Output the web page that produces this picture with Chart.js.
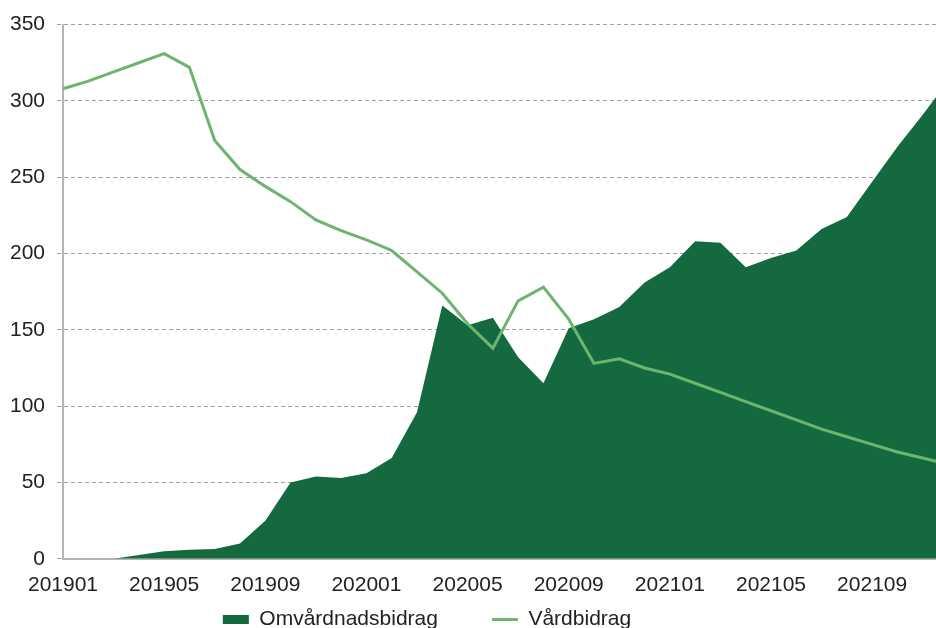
<!DOCTYPE html>
<html>
<head>
<meta charset="utf-8">
<script src="https://cdn.jsdelivr.net/npm/chart.js@4/dist/chart.umd.min.js"></script>
<style>
  html, body { margin: 0; padding: 0; background: #fff; overflow: hidden; width: 936px; height: 628px; }
  #chart { display: block; }
</style>
</head>
<body>
<canvas id="chart" width="948" height="653"></canvas>
<script>
// Months, one point per month (the right end is cropped in the picture)
const months = [
  '201901', '201902', '201903', '201904', '201905', '201906',
  '201907', '201908', '201909', '201910', '201911', '201912',
  '202001', '202002', '202003', '202004', '202005', '202006',
  '202007', '202008', '202009', '202010', '202011', '202012',
  '202101', '202102', '202103', '202104', '202105', '202106',
  '202107', '202108', '202109', '202110', '202111', '202112'
];

const omvardnadsbidrag = [
  0, 0, 0, 2.5, 5, 6, 6.5, 10, 25, 50, 54, 53,
  56, 66, 96, 166, 153, 158, 132, 115, 151, 157, 165, 181,
  191, 208, 207, 191, 197, 202, 216, 224, 247, 270, 291, 313
];

const vardbidrag = [
  308, 313, 319, 325, 331, 322, 274, 255, 244, 234, 222, 215,
  209, 202, 188, 174, 154, 138, 169, 178, 157, 128, 131, 125,
  121, 115, 109, 103, 97, 91, 85, 80, 75, 70, 66, 62
];

const yTicks = [0, 50, 100, 150, 200, 250, 300, 350];

const FONT = { family: '"Liberation Sans", Arial, sans-serif', size: 21 };
const TEXT = '#222222';
const DARK = '#146a3e';
const LIGHT = '#6db56f';
const ITEM_GAP = 54;

// the legend in the picture sits left of the canvas centre, tight under the axis.
// only the top moves up, so the legend's clip box still holds the items
const legendShift = {
  id: 'legendShift',
  afterLayout(chart) {
    const lg = chart.legend;
    if (!lg) return;
    lg.left -= 47;
    lg.right -= 47;
    lg.top -= ITEM_GAP + 3;
  }
};

new Chart(document.getElementById('chart'), {
  type: 'line',
  data: {
    labels: months,
    datasets: [
      {
        label: 'Vårdbidrag',
        data: vardbidrag,
        borderColor: LIGHT,
        backgroundColor: LIGHT,
        borderWidth: 3,
        pointRadius: 0,
        pointStyle: 'line',
        tension: 0,
        fill: false
      },
      {
        label: 'Omvårdnadsbidrag',
        data: omvardnadsbidrag,
        borderColor: DARK,
        backgroundColor: DARK,
        borderWidth: 0,
        pointRadius: 0,
        pointStyle: 'rect',
        tension: 0,
        fill: 'origin'
      }
    ]
  },
  options: {
    responsive: false,
    animation: false,
    layout: { padding: { top: 23, left: 0, right: 0, bottom: 0 } },
    scales: {
      x: {
        grid: { display: true, drawOnChartArea: false, drawTicks: false, tickLength: 0 },
        border: { display: true, color: '#b4b4b4', width: 2 },
        ticks: {
          autoSkip: false,
          maxRotation: 0,
          padding: 14,
          color: TEXT,
          font: FONT,
          callback: (v, i) => (i % 4 === 0 ? months[i] : null)
        }
      },
      y: {
        min: 0,
        max: 350,
        afterBuildTicks: (scale) => { scale.ticks = yTicks.map(v => ({ value: v })); },
        afterFit: (scale) => { scale.width = 63; },
        grid: {
          color: '#a0a0a0',
          lineWidth: 1,
          tickLength: 6,
          tickColor: '#a0a0a0',
          tickBorderDash: [4, 3]
        },
        border: { display: true, color: '#b4b4b4', width: 2, dash: [4, 3] },
        ticks: { padding: 12, color: TEXT, font: FONT }
      }
    },
    plugins: {
      legend: {
        position: 'bottom',
        maxHeight: 41,
        labels: {
          usePointStyle: true,
          pointStyleWidth: 26,
          boxHeight: 9,
          padding: ITEM_GAP,
          color: TEXT,
          font: FONT,
          sort: (a, b) => b.datasetIndex - a.datasetIndex
        }
      },
      tooltip: { enabled: false }
    }
  },
  plugins: [legendShift]
});
</script>
</body>
</html>
